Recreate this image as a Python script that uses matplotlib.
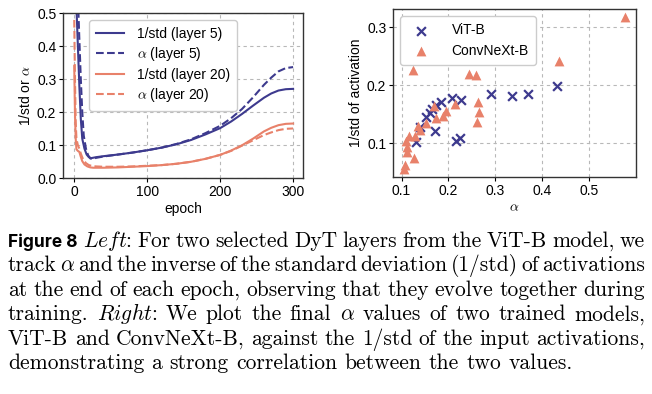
import numpy as np
import matplotlib
matplotlib.use("Agg")
import matplotlib.pyplot as plt

plt.rcParams['font.family'] = ['Liberation Sans', 'DejaVu Sans']
plt.rcParams['mathtext.fontset'] = 'cm'

blue = '#3d3a8e'
orange = '#e8816a'

# left panel: 1/std and alpha over training
ep_std5 = [0, 3, 5, 7, 9, 11, 14, 17, 20, 23, 30, 40, 60, 80, 100, 120, 140, 160,
           180, 200, 215, 230, 245, 260, 270, 280, 290, 300]
std5 = [0.65, 0.52, 0.40, 0.28, 0.18, 0.12, 0.09, 0.072, 0.064, 0.061, 0.064, 0.067,
        0.072, 0.078, 0.085, 0.093, 0.103, 0.116, 0.133, 0.152, 0.172, 0.195, 0.220,
        0.244, 0.257, 0.266, 0.270, 0.271]

ep_a5 = [0, 5, 7, 9, 11, 13, 16, 19, 22, 25, 30, 40, 60, 80, 100, 120, 140, 160,
         180, 200, 215, 230, 245, 260, 270, 280, 290, 300]
a5 = [0.80, 0.55, 0.42, 0.30, 0.20, 0.13, 0.09, 0.07, 0.06, 0.059, 0.062, 0.066,
      0.072, 0.078, 0.085, 0.093, 0.104, 0.118, 0.137, 0.159, 0.182, 0.210, 0.245,
      0.283, 0.305, 0.324, 0.334, 0.337]

ep_std20 = [0, 1, 2, 3, 5, 7, 9, 11, 14, 18, 22, 26, 30, 40, 60, 80, 100, 120, 140,
            160, 180, 200, 215, 230, 245, 260, 270, 280, 290, 300]
std20 = [0.34, 0.20, 0.12, 0.088, 0.083, 0.080, 0.065, 0.052, 0.042, 0.036, 0.033,
         0.032, 0.032, 0.032, 0.033, 0.035, 0.037, 0.040, 0.044, 0.050, 0.059, 0.071,
         0.084, 0.100, 0.120, 0.142, 0.153, 0.161, 0.165, 0.166]

ep_a20 = [0, 1, 2, 3, 5, 7, 9, 12, 16, 20, 25, 30, 40, 60, 80, 100, 120, 140, 160,
          180, 200, 215, 230, 245, 260, 270, 280, 290, 300]
a20 = [0.48, 0.30, 0.17, 0.12, 0.10, 0.09, 0.075, 0.058, 0.046, 0.040, 0.037, 0.036,
       0.035, 0.035, 0.036, 0.038, 0.040, 0.044, 0.050, 0.059, 0.071, 0.083, 0.099,
       0.115, 0.131, 0.139, 0.146, 0.150, 0.151]

# right panel: final alpha vs 1/std
vit_alpha = [0.130, 0.140, 0.153, 0.160, 0.166, 0.173, 0.185, 0.171, 0.208, 0.227,
             0.216, 0.225, 0.291, 0.336, 0.370, 0.432]
vit_std = [0.102, 0.127, 0.145, 0.152, 0.158, 0.166, 0.171, 0.120, 0.177, 0.175,
           0.104, 0.109, 0.184, 0.182, 0.185, 0.198]

cnx_alpha = [0.106, 0.108, 0.111, 0.111, 0.110, 0.115, 0.127, 0.124, 0.128, 0.136,
             0.139, 0.152, 0.170, 0.174, 0.188, 0.194, 0.213, 0.243, 0.258, 0.263,
             0.266, 0.260, 0.436, 0.576]
cnx_std = [0.055, 0.062, 0.084, 0.093, 0.103, 0.113, 0.074, 0.227, 0.112, 0.129,
           0.122, 0.134, 0.164, 0.143, 0.147, 0.156, 0.167, 0.219, 0.217, 0.171,
           0.153, 0.137, 0.242, 0.318]

caption_lines = [
    "**Figure~8** _Left:_ For two selected DyT layers from the ViT-B model, we",
    "track $\\alpha$ and the inverse of the standard deviation (1/std) of activations",
    "at the end of each epoch, observing that they evolve together during",
    "training. _Right:_ We plot the final $\\alpha$ values of two trained models,",
    "ViT-B and ConvNeXt-B, against the 1/std of the input activations,",
    "demonstrating a strong correlation between the two values.",
]

W, H = 652, 394
fig = plt.figure(figsize=(W / 100, H / 100), dpi=100)

ax1 = fig.add_axes([63.3 / W, 1 - 178.3 / H, 240 / W, 165 / H])
ax2 = fig.add_axes([393.3 / W, 1 - 176.7 / H, 242.7 / W, 167.4 / H])

fs_ax = 10
ax1.plot(ep_std5, std5, color=blue, lw=1.5, label='1/std (layer 5)')
ax1.plot(ep_a5, a5, color=blue, lw=1.5, ls='--', label=r'$\alpha$ (layer 5)')
ax1.plot(ep_std20, std20, color=orange, lw=1.5, label='1/std (layer 20)')
ax1.plot(ep_a20, a20, color=orange, lw=1.5, ls='--', label=r'$\alpha$ (layer 20)')
ax1.set_ylim(0, 0.5)
ax1.set_xlim(-15, 314)
ax1.set_xticks([0, 100, 200, 300])
ax1.set_xlabel('epoch', fontsize=fs_ax, labelpad=2)
ax1.set_ylabel(r'1/std or $\alpha$', fontsize=fs_ax, labelpad=3)
ax1.legend(loc='upper left', bbox_to_anchor=(0.08, 1.0), fontsize=fs_ax,
           handlelength=2.0, handletextpad=0.9, labelspacing=0.3, borderpad=0.5,
           framealpha=1)

ax2.scatter(vit_alpha, vit_std, marker='x', color=blue, s=40, lw=1.6, label='ViT-B', zorder=3)
ax2.scatter(cnx_alpha, cnx_std, marker='^', color=orange, s=50, lw=0, label='ConvNeXt-B', zorder=3)
ax2.set_xticks([0.1, 0.2, 0.3, 0.4, 0.5])
ax2.set_yticks([0.1, 0.2, 0.3])
ax2.set_xlabel(r'$\alpha$', fontsize=fs_ax, labelpad=2)
ax2.set_ylabel('1/std of activation', fontsize=fs_ax, labelpad=3)
ax2.legend(loc='upper left', fontsize=fs_ax, handletextpad=1.2, borderpad=0.5,
           labelspacing=0.5, framealpha=1)

for ax in (ax1, ax2):
    ax.grid(True, ls=(0, (3, 3)), color='#b8b8b8', lw=0.8)
    ax.set_axisbelow(True)
    ax.tick_params(labelsize=fs_ax, length=3, width=0.8, pad=2)
    for sp in ax.spines.values():
        sp.set_color('#333333')
        sp.set_linewidth(1.0)

# caption, justified word by word
fs = 15.5
x_left, x_right = 8, 645
base0, dy = 246.7, 24.5
renderer = fig.canvas.get_renderer()
for i, line in enumerate(caption_lines):
    y = 1 - (base0 + i * dy) / H
    words = line.split(' ')
    texts = []
    for w in words:
        if w.startswith('**'):
            t = fig.text(0, y, w.strip('*').replace('~', ' '), fontsize=12.5,
                         family='Inter', weight='bold', va='baseline')
        elif w.startswith('_'):
            core = w.strip('_')
            t = fig.text(0, y, '$\\mathit{' + core.rstrip(':') + '}$:', fontsize=fs,
                         family='cmr10', va='baseline')
        else:
            t = fig.text(0, y, w, fontsize=fs, family='cmr10', va='baseline')
        texts.append(t)
    widths = [t.get_window_extent(renderer).width for t in texts]
    if i < len(caption_lines) - 1:
        gap = (x_right - x_left - sum(widths)) / (len(texts) - 1)
    else:
        gap = fs * 100 / 72 * 0.34
    x = x_left
    for t, wd in zip(texts, widths):
        t.set_x(x / W)
        x += wd + gap

fig.savefig('out.png', dpi=100)
